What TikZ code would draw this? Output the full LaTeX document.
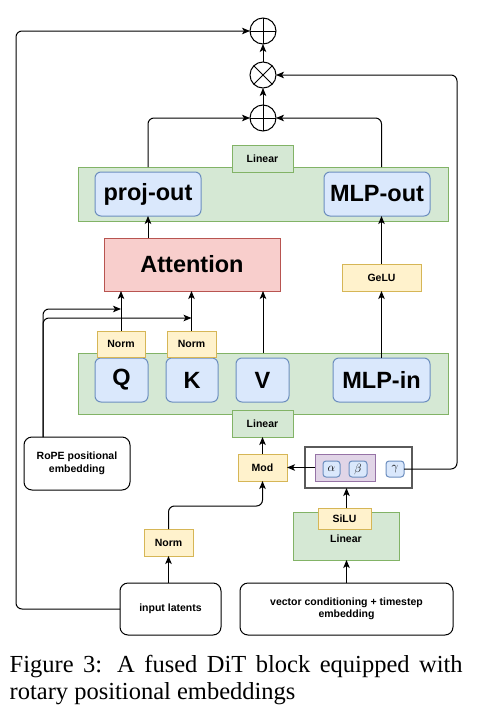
\documentclass[tikz,border=0pt]{standalone}
\usepackage{fontspec}
\setmainfont{Liberation Serif}
\newfontfamily\dsans{Liberation Sans}
\usetikzlibrary{arrows.meta}
\definecolor{gfill}{HTML}{D5E8D4}\definecolor{gline}{HTML}{82B366}
\definecolor{bfill}{HTML}{DAE8FC}\definecolor{bline}{HTML}{6C8EBF}
\definecolor{yfill}{HTML}{FFF2CC}\definecolor{yline}{HTML}{D6B656}
\definecolor{rfill}{HTML}{F8CECC}\definecolor{rline}{HTML}{B85450}
\definecolor{pfill}{HTML}{E1D5E7}\definecolor{pline}{HTML}{9673A6}
\definecolor{oline}{HTML}{5A5A5A}
\begin{document}
\begin{tikzpicture}[x=1pt,y=-1pt,
  box/.style={draw, inner sep=0pt, outer sep=0pt, line width=1pt},
  big/.style={font=\dsans\bfseries\fontsize{23.5}{26}\selectfont},
  small/.style={font=\dsans\bfseries\fontsize{10.5}{12.5}\selectfont},
  greenbox/.style={box, fill=gfill, draw=gline},
  bluebox/.style={box, fill=bfill, draw=bline, rounded corners=6pt},
  tinyblue/.style={box, fill=bfill, draw=bline, rounded corners=3pt, font=\fontsize{11.5}{12}\selectfont},
  yelbox/.style={box, fill=yfill, draw=yline},
  redbox/.style={box, fill=rfill, draw=rline},
  whitebox/.style={box, fill=white, draw=black, rounded corners=8pt, align=center},
  conn/.style={draw=black, line width=1pt, rounded corners=6pt, -{Stealth[length=8pt,width=6.5pt,inset=2pt]}},
  opnode/.style={circle, draw, line width=1pt, minimum size=26pt, inner sep=0pt, outer sep=0pt},
  oplus/.style={opnode, path picture={\draw[line width=1pt] (path picture bounding box.north) -- (path picture bounding box.south) (path picture bounding box.west) -- (path picture bounding box.east);}},
  otimes/.style={opnode, path picture={\draw[line width=1pt] (path picture bounding box.north west) -- (path picture bounding box.south east) (path picture bounding box.south west) -- (path picture bounding box.north east);}},
  wh/.style 2 args={minimum width=#1pt, minimum height=#2pt}
]
\useasboundingbox (0,0) rectangle (478,715);
\fill[white] (0,0) rectangle (478,715);

% operators
\node[oplus] (plusT) at (263,31) {};
\node[otimes] (times) at (263,75) {};
\node[oplus] (plusM) at (263,118) {};

% upper band
\node[greenbox, wh={370}{54}] (bandT) at (263,194) {};
\node[greenbox, wh={61}{27}, small] (linT) at (262.5,158.5) {Linear};
\node[bluebox, wh={106}{44}, big] (projout) at (148,194) {proj-out};
\node[bluebox, wh={106}{44}, big] (mlpout) at (377,194) {MLP-out};

% attention, gelu
\node[redbox, wh={176}{53}, big] (attn) at (192,264.5) {Attention};
\node[yelbox, wh={79}{27}, small] (gelu) at (381.5,277.5) {GeLU};

% lower band
\node[greenbox, wh={370}{61}] (bandB) at (263,383.5) {};
\node[bluebox, wh={53}{44}, big] (Q) at (121.5,380) {Q};
\node[bluebox, wh={52}{44}, big] (K) at (192,380) {K};
\node[bluebox, wh={53}{44}, big] (V) at (262.5,380) {V};
\node[bluebox, wh={97}{44}, big] (mlpin) at (381.5,380) {MLP-in};
\node[yelbox, wh={48}{26}, small] (normQ) at (121,344) {Norm};
\node[yelbox, wh={49}{26}, small] (normK) at (191.5,344) {Norm};
\node[greenbox, wh={61}{27}, small] (linB) at (262.5,423.5) {Linear};

% modulation
\node[yelbox, wh={49}{27}, small] (mod) at (262.5,467.5) {Mod};
\node[box, draw=oline, line width=1.8pt, wh={107}{41}] (outer) at (358.5,467.5) {};
\node[box, fill=pfill, draw=pline, wh={60}{27}] (purple) at (345,467.5) {};
\node[tinyblue, wh={17}{16}] (alpha) at (331.5,469) {$\alpha$};
\node[tinyblue, wh={18}{16}] (beta) at (358,469) {$\beta$};
\node[tinyblue, wh={18}{16}] (gamma) at (395,469) {$\gamma$};

% conditioning
\node[greenbox, wh={106}{48}] (linG) at (346,536) {};
\node[small] (linGlab) at (346,539) {Linear};
\node[yelbox, wh={53}{21}, small] (silu) at (344.5,518.5) {SiLU};
\node[yelbox, wh={49}{27}, small] (normB) at (168.5,542.5) {Norm};

% inputs
\node[whitebox, wh={106}{53}, small] (rope) at (77,463.5) {RoPE positional\\embedding};
\node[whitebox, wh={101}{52}, small] (input) at (170.5,609) {input latents};
\node[whitebox, wh={213}{52}, small] (vec) at (346.5,609) {vector conditioning + timestep\\embedding};

% connectors
\draw[conn] (input.west) -- (16,609) -- (16,31) -- (plusT.west);
\draw[conn] (input.north -| normB.south) -- (normB.south);
\draw[conn] (normB.north) -- (168.5,506) -- (262.5,506) -- (mod.south);
\draw[conn] (vec.north) -- (vec.north |- linG.south);
\draw[conn] (silu.north -| vec.north) -- (outer.south -| vec.north);
\draw[conn] (purple.west) -- (mod.east);
\draw[conn] (gamma.east) -- (457,469) -- (457,75) -- (times.east);
\draw[conn] (mod.north) -- (linB.south);
\draw[conn] (bandB.north) -- (bandB.north |- attn.south);
\draw[conn] (normQ.north) -- (normQ.north |- attn.south);
\draw[conn] (normK.north) -- (normK.north |- attn.south);
\coordinate (ropeOut) at ([xshift=19pt]rope.north west);
\draw[conn] (ropeOut) -- (43,309) -- (normQ.north |- 0,309);
\draw[conn] (ropeOut) -- (43,318) -- (normK.north |- 0,318);
\draw[conn] (mlpin.north) -- (gelu.south);
\draw[conn] (gelu.north) -- (gelu.north |- mlpout.south);
\draw[conn] (attn.north -| projout.north) -- (projout.south);
\draw[conn] (projout.north |- bandT.north) -- (148,118) -- (plusM.west);
\draw[conn] (gelu.north |- bandT.north) -- (381.5,118) -- (plusM.east);
\draw[conn] (plusM.north) -- (times.south);
\draw[conn] (times.north) -- (plusT.south);

% caption
\node[anchor=north west, align=left, inner sep=0pt,
      font=\fontsize{24.5}{27}\selectfont] (cap) at (9.5,655)
  {\makebox[453pt][s]{Figure 3: A fused DiT block equipped with}\\rotary positional embeddings};
\end{tikzpicture}
\end{document}
